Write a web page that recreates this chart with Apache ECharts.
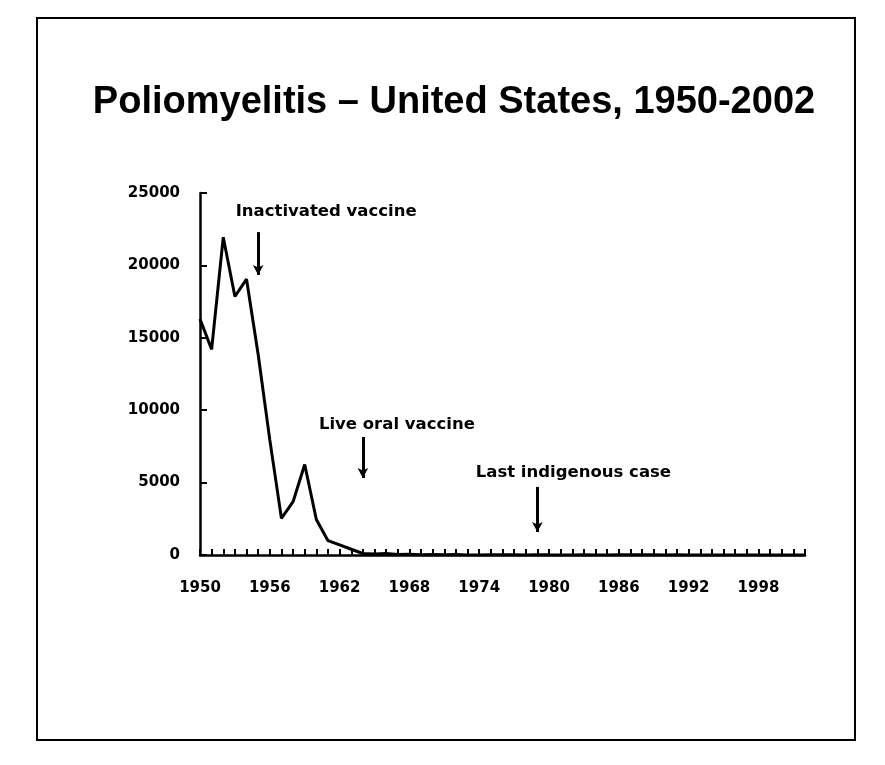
<!DOCTYPE html>
<html>
<head>
<meta charset="utf-8">
<script src="https://cdn.jsdelivr.net/npm/echarts@6/dist/echarts.min.js"></script>
<style>
html,body{margin:0;padding:0;background:#fff;}
#chart{width:885px;height:765px;}
</style>
</head>
<body>
<div id="chart"></div>
<script>
// Categories: years 1950-2002
var years = [];
for (var y = 1950; y <= 2002; y++) { years.push(String(y)); }

// Reported paralytic poliomyelitis cases
var cases = [
  16300, 14200, 21950, 17850, 19050, 13850, 7950, 2530, 3680, 6250,
  2450, 990, 700, 396, 106, 61, 106, 40, 53, 18,
  31, 17, 29, 7, 7, 13, 10, 19, 8, 22,
  9, 6, 8, 13, 8, 7, 10, 9, 9, 11,
  6, 10, 6, 4, 8, 7, 7, 3, 3, 2,
  1, 0, 0
];

// Y-axis range
var yMin = 0, yMax = 25000, yStep = 5000;

// Annotations: year of arrow, arrow top value, arrow tip value, text
var annoYears  = ['1955', '1964', '1979'];
var annoTop    = [22300, 8150, 4700];
var annoTip    = [19340, 5320, 1590];
var annoText   = ['Inactivated vaccine', 'Live oral vaccine', 'Last indigenous case'];
var annoOffset = [[68, -20], [34, -12], [36, -14]];

var chart = echarts.init(document.getElementById('chart'), null, {renderer: 'canvas'});

var markLines = annoYears.map(function (yr, i) {
  return [{coord: [yr, annoTop[i]]}, {coord: [yr, annoTip[i]]}];
});
var markPoints = annoYears.map(function (yr, i) {
  return {
    coord: [yr, annoTop[i]],
    name: annoText[i],
    label: {offset: annoOffset[i]}
  };
});

var labelFont = {
  color: '#000',
  fontFamily: 'DejaVu Sans',
  fontWeight: 'bold',
  fontSize: 15
};

chart.setOption({
  animation: false,
  backgroundColor: '#fff',
  title: {
    text: 'Poliomyelitis \u2013 United States, 1950-2002',
    left: 449,
    textAlign: 'center',
    top: 79,
    textStyle: {
      fontFamily: 'Liberation Sans',
      fontWeight: 'bold',
      fontSize: 38,
      color: '#000'
    }
  },
  graphic: [{
    type: 'rect',
    shape: {x: 37, y: 18, width: 818, height: 722},
    style: {fill: 'none', stroke: '#000', lineWidth: 2}
  }],
  grid: {left: 200, right: 80, top: 193, bottom: 210, containLabel: false},
  xAxis: {
    type: 'category',
    data: years,
    boundaryGap: false,
    axisLine: {lineStyle: {color: '#000', width: 2.5}},
    axisTick: {show: true, inside: true, length: 6, interval: 0, lineStyle: {color: '#000', width: 2}},
    axisLabel: Object.assign({interval: 5, margin: 26}, labelFont),
    splitLine: {show: false}
  },
  yAxis: {
    type: 'value',
    min: yMin,
    max: yMax,
    interval: yStep,
    axisLine: {show: true, lineStyle: {color: '#000', width: 2.5}},
    axisTick: {show: true, inside: true, length: 7, lineStyle: {color: '#000', width: 2}},
    axisLabel: Object.assign({margin: 20, formatter: function (v) { return String(v); }}, labelFont),
    splitLine: {show: false}
  },
  series: [{
    type: 'line',
    data: cases,
    symbol: 'none',
    lineStyle: {color: '#000', width: 3},
    markLine: {
      silent: true,
      symbol: ['none', 'arrow'],
      symbolSize: [8, 10],
      lineStyle: {color: '#000', width: 3, type: 'solid'},
      label: {show: false},
      data: markLines
    },
    markPoint: {
      silent: true,
      symbol: 'circle',
      symbolSize: 0,
      itemStyle: {color: 'rgba(0,0,0,0)'},
      label: {
        show: true,
        position: 'inside',
        formatter: '{b}',
        color: '#000',
        fontFamily: 'DejaVu Sans',
        fontWeight: 'bold',
        fontSize: 16.5
      },
      data: markPoints
    }
  }]
});
</script>
</body>
</html>
